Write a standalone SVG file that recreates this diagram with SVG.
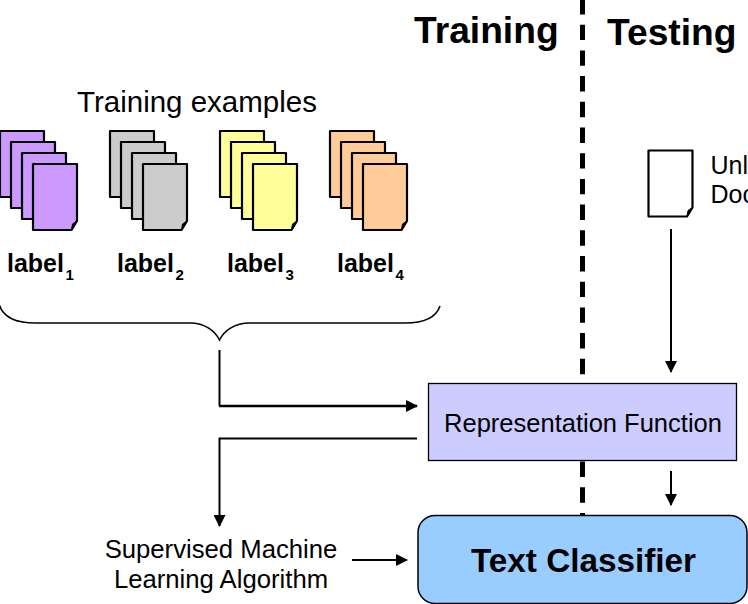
<svg xmlns="http://www.w3.org/2000/svg" width="748" height="604" viewBox="0 0 748 604">
<style>
text{font-family:"Liberation Sans",Arial,sans-serif;fill:#000}
.h{font-size:37.200px;font-weight:bold}
.t{font-size:25.700px}
.l{font-size:25px;font-weight:bold}
.s{font-size:15px;font-weight:bold}
.p{stroke:#000;stroke-width:2.2;stroke-linejoin:round}
.f{fill:#000;stroke:#000;stroke-width:1}
.c{fill:none;stroke:#000;stroke-width:2}
.ah{fill:#000;stroke:none}
</style>
<defs>
<g id="page">
<path class="p" d="M0 0H44V57L38.500 66H0Z"/>
<path class="f" d="M38.500 66L39.500 60L44 57Z"/>
</g>
<marker id="a" markerUnits="userSpaceOnUse" markerWidth="12" markerHeight="12" refX="11" refY="6" orient="auto"><path class="ah" d="M0 0L12 6L0 12Z"/></marker>
</defs>
<g id="divider"><line x1="582.500" y1="-1" x2="582.500" y2="516" stroke="#000" stroke-width="5" stroke-dasharray="15.400 10.300"/></g>
<g id="headers">
<text class="h" x="414" y="42.500">Training</text>
<text class="h" x="607" y="45">Testing</text>
<text x="197" y="112" font-size="29.500" text-anchor="middle">Training examples</text>
</g>
<g id="stack-1" fill="#cc99ff">
<use href="#page" x="0" y="131"/><use href="#page" x="11" y="142"/><use href="#page" x="22" y="153"/><use href="#page" x="33" y="164"/>
</g>
<g id="stack-2" fill="#cccccc">
<use href="#page" x="110" y="131"/><use href="#page" x="121" y="142"/><use href="#page" x="132" y="153"/><use href="#page" x="143" y="164"/>
</g>
<g id="stack-3" fill="#ffff99">
<use href="#page" x="220" y="131"/><use href="#page" x="231" y="142"/><use href="#page" x="242" y="153"/><use href="#page" x="253" y="164"/>
</g>
<g id="stack-4" fill="#ffcc99">
<use href="#page" x="330" y="131"/><use href="#page" x="341" y="142"/><use href="#page" x="352" y="153"/><use href="#page" x="363" y="164"/>
</g>
<g id="labels">
<text class="l" x="7" y="272">label</text><text class="s" x="65.500" y="280">1</text>
<text class="l" x="117" y="272">label</text><text class="s" x="175.500" y="280">2</text>
<text class="l" x="227" y="272">label</text><text class="s" x="285.500" y="280">3</text>
<text class="l" x="337" y="272">label</text><text class="s" x="395.500" y="280">4</text>
</g>
<g id="unlabeled-doc" fill="#fff">
<use href="#page" x="648.500" y="150.500"/>
<text x="710.500" y="174" font-size="25">Unl</text>
<text x="710.500" y="203" font-size="25">Doc</text>
</g>
<g id="connectors">
<path class="c" style="stroke-width:1.600" d="M-1 304C3 318 18 323 35 323H190C205 323 215 331 219.500 340C224 331 234 323 250 323H405C422 323 436 318 440 306"/>
<path class="c" d="M219.500 350V406" />
<path class="c" style="stroke-width:2.500" d="M219 406H417" marker-end="url(#a)"/>
<path class="c" d="M417 438.500H219.500V526" marker-end="url(#a)"/>
<path class="c" d="M671 229V372" marker-end="url(#a)"/>
<path class="c" d="M671 471V505" marker-end="url(#a)"/>
<path class="c" d="M352 560H407" marker-end="url(#a)"/>
</g>
<g id="representation-function">
<rect x="428.500" y="383.500" width="308" height="77" fill="#ccccff" stroke="#000" stroke-width="1.300"/>
<text x="583" y="432" font-size="25.500" text-anchor="middle">Representation Function</text>
</g>
<g id="text-classifier">
<rect x="418" y="515.500" width="329" height="88" rx="17" fill="#99ccff" stroke="#000" stroke-width="1.500"/>
<text x="583.500" y="572" font-size="33.300" font-weight="bold" text-anchor="middle">Text Classifier</text>
</g>
<g id="algorithm">
<text class="t" x="221" y="558" text-anchor="middle">Supervised Machine</text>
<text class="t" x="221" y="588" text-anchor="middle">Learning Algorithm</text>
</g>
</svg>
